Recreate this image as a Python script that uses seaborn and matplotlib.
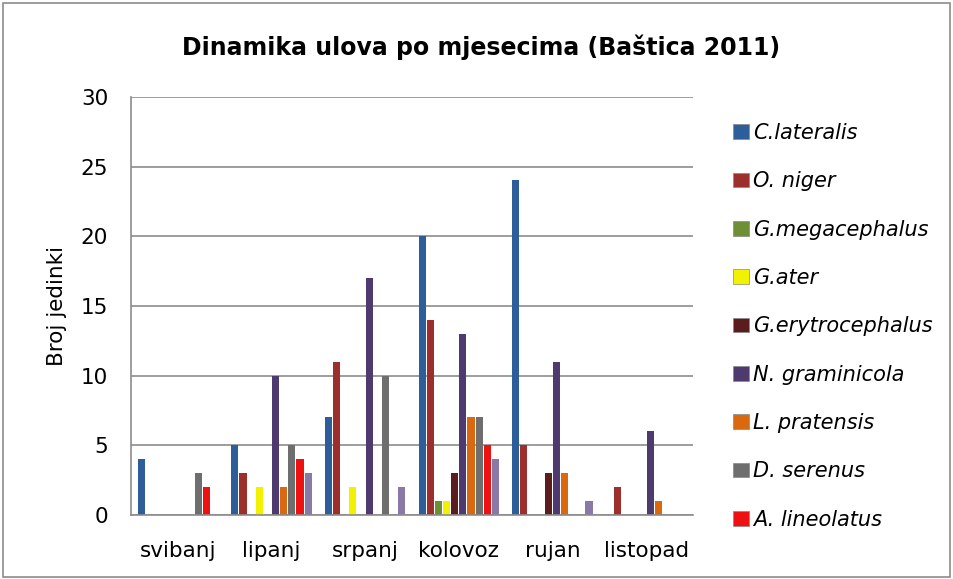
import matplotlib.pyplot as plt
import matplotlib.patches as mpatches
import seaborn as sns
import pandas as pd

sns.set_theme(style="white")
plt.rcParams['font.family'] = ['DejaVu Sans']
plt.rcParams['text.color'] = 'black'
plt.rcParams['axes.labelcolor'] = 'black'
plt.rcParams['xtick.labelcolor'] = 'black'
plt.rcParams['ytick.labelcolor'] = 'black'

months = ["svibanj", "lipanj", "srpanj", "kolovoz", "rujan", "listopad"]
species = ["C.lateralis", "O. niger", "G.megacephalus", "G.ater", "G.erytrocephalus",
           "N. graminicola", "L. pratensis", "D. serenus", "A. lineolatus", "(10. vrsta)"]
colors = ["#2d5e9a", "#9c2e2b", "#6f8f36", "#f2f200", "#5a1c1c",
          "#4e3a6e", "#d9680e", "#6e6e6e", "#ee1111", "#8a78a6"]

# counts per species, one value per month
c_lateralis      = [4, 5, 7, 20, 24, 0]
o_niger          = [0, 3, 11, 14, 5, 2]
g_megacephalus   = [0, 0, 0, 1, 0, 0]
g_ater           = [0, 2, 2, 1, 0, 0]
g_erytrocephalus = [0, 0, 0, 3, 3, 0]
n_graminicola    = [0, 10, 17, 13, 11, 6]
l_pratensis      = [0, 2, 0, 7, 3, 1]
d_serenus        = [3, 5, 10, 7, 0, 0]
a_lineolatus     = [2, 4, 0, 5, 0, 0]
tenth_species    = [0, 3, 2, 4, 1, 0]

series = [c_lateralis, o_niger, g_megacephalus, g_ater, g_erytrocephalus,
          n_graminicola, l_pratensis, d_serenus, a_lineolatus, tenth_species]

rows = []
for name, vals in zip(species, series):
    for m, v in zip(months, vals):
        rows.append({"mjesec": m, "vrsta": name, "broj": v})
df = pd.DataFrame(rows)

fig = plt.figure(figsize=(9.54, 5.79), dpi=100)
ax = fig.add_axes([0.1373, 0.1105, 0.589, 0.7222])

sns.barplot(data=df, x="mjesec", y="broj", hue="vrsta", order=months, hue_order=species,
            palette=colors, width=0.87, gap=0.12, ax=ax, legend=False, saturation=1,
            edgecolor="none")

ax.set_ylim(0, 30)
ax.set_yticks(range(0, 31, 5))
ax.set_xlim(-0.5, 5.5)
ax.yaxis.grid(True, color="#8c8c8c", linewidth=1.2)
ax.set_axisbelow(True)
for s in ["top", "right"]:
    ax.spines[s].set_visible(False)
for s in ["left", "bottom"]:
    ax.spines[s].set_color("#8c8c8c")
    ax.spines[s].set_linewidth(1.2)

ax.set_xticks(range(len(months)))
ax.set_xticklabels(months, fontsize=15.5)
ax.tick_params(axis="x", length=0, pad=19)
ax.set_xticks([i - 0.5 for i in range(len(months) + 1)], minor=True)
ax.tick_params(axis="x", which="minor", length=6, color="#8c8c8c", width=1.2, direction="out")
ax.tick_params(axis="y", labelsize=15.5, length=6.5, color="#8c8c8c", width=1.2,
               direction="out", pad=10)
ax.set_xlabel("")
ax.set_ylabel("Broj jedinki", fontsize=15.5, labelpad=10)

fig.suptitle("Dinamika ulova po mjesecima (Baštica 2011)", fontsize=17, fontweight="bold",
             x=0.504, y=0.919, va="center")

handles = [mpatches.Patch(facecolor=c, edgecolor="#888888", linewidth=0.5)
           for c in colors[:9]]
fig.legend(handles, species[:9], loc="upper left", bbox_to_anchor=(0.749, 0.82),
           frameon=False, prop={"style": "italic", "size": 15}, labelspacing=1.36,
           handlelength=0.75, handleheight=0.7, handletextpad=0.2)

fig.add_artist(mpatches.Rectangle((0.003, 0.004), 0.993, 0.99, transform=fig.transFigure,
                                  fill=False, edgecolor="#8c8c8c", linewidth=1.2))

fig.savefig("out.png", dpi=100)
